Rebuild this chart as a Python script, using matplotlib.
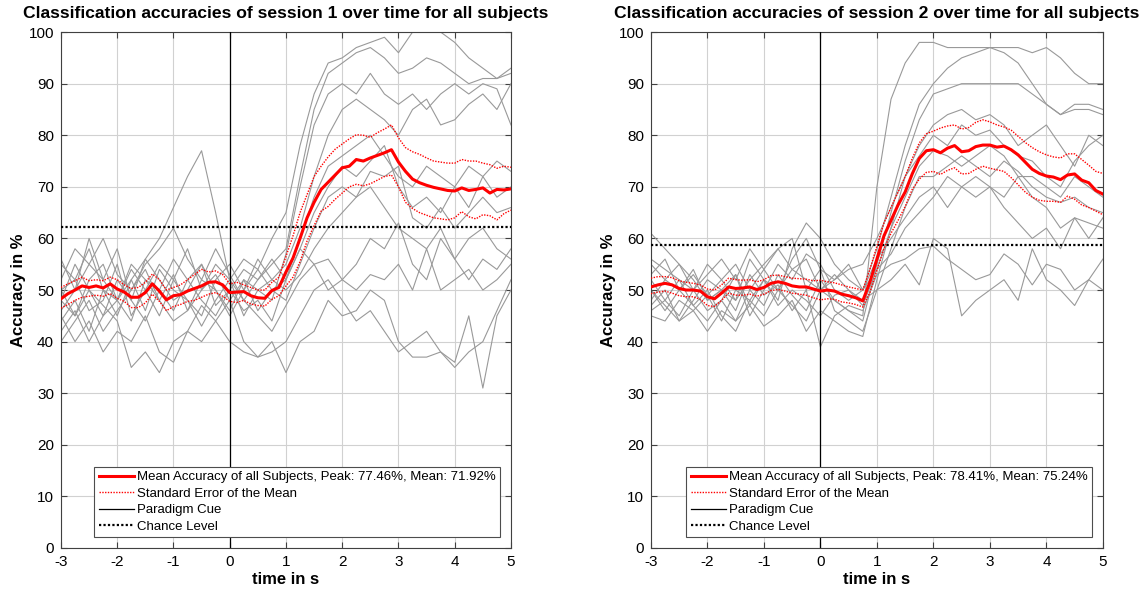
import numpy as np
import matplotlib

matplotlib.use("Agg")
import matplotlib.pyplot as plt
from matplotlib.lines import Line2D

plt.rcParams["font.family"] = ["Liberation Sans", "DejaVu Sans"]
plt.rcParams["axes.unicode_minus"] = False

# sampling grids (s)
t_subj = np.arange(-3.0, 5.001, 0.25)
t_mean = np.arange(-3.0, 5.001, 0.125)

# ---- session 1 -------------------------------------------------------------
s1_subjects = [
    [55, 52, 58, 50, 48, 54, 50, 55, 52, 58, 50, 55, 52, 56, 54, 60, 65, 78, 88, 94, 95, 97, 98, 99, 96, 100, 100, 100, 98, 95, 93, 91, 93],
    [48, 55, 50, 45, 52, 48, 56, 52, 48, 50, 55, 47, 50, 54, 52, 55, 58, 72, 85, 92, 94, 96, 97, 95, 92, 93, 95, 94, 92, 90, 91, 91, 92],
    [50, 45, 52, 55, 48, 44, 52, 48, 53, 46, 52, 50, 46, 52, 50, 48, 57, 70, 82, 88, 90, 88, 92, 88, 86, 88, 85, 88, 90, 88, 90, 89, 82],
    [44, 48, 42, 50, 45, 52, 46, 54, 50, 48, 45, 52, 55, 50, 56, 52, 55, 62, 72, 80, 85, 87, 85, 83, 80, 85, 87, 82, 83, 86, 88, 85, 90],
    [52, 58, 55, 60, 53, 50, 55, 58, 62, 56, 52, 58, 53, 48, 52, 56, 52, 60, 68, 74, 76, 78, 80, 76, 72, 70, 74, 72, 70, 74, 72, 75, 73],
    [46, 50, 55, 52, 58, 48, 44, 50, 46, 52, 48, 45, 50, 46, 48, 44, 52, 58, 65, 70, 74, 72, 75, 78, 70, 66, 68, 65, 70, 66, 72, 68, 70],
    [40, 44, 48, 42, 46, 50, 54, 48, 44, 46, 50, 53, 48, 52, 46, 50, 48, 55, 62, 68, 70, 68, 73, 72, 74, 64, 62, 66, 62, 65, 68, 65, 66],
    [50, 52, 46, 48, 55, 45, 50, 45, 52, 48, 43, 48, 52, 45, 50, 52, 50, 53, 58, 62, 65, 68, 70, 66, 62, 60, 58, 62, 56, 60, 62, 58, 56],
    [56, 50, 60, 52, 48, 55, 52, 50, 56, 52, 55, 50, 45, 50, 54, 50, 52, 58, 55, 50, 52, 50, 53, 52, 55, 50, 58, 50, 52, 54, 50, 52, 55],
    [42, 46, 40, 45, 48, 52, 56, 60, 66, 72, 77, 65, 52, 48, 45, 42, 47, 52, 55, 56, 52, 55, 60, 58, 63, 55, 52, 60, 56, 52, 56, 54, 58],
    [45, 40, 44, 38, 42, 40, 45, 38, 36, 42, 40, 44, 40, 38, 37, 40, 34, 40, 42, 48, 45, 46, 50, 48, 40, 37, 37, 38, 36, 45, 31, 45, 50],
    [48, 45, 50, 47, 44, 35, 38, 34, 40, 42, 47, 44, 48, 40, 37, 38, 40, 45, 50, 52, 48, 44, 46, 42, 38, 40, 42, 38, 35, 38, 40, 46, 52],
]
s1_mean = [
    48.3, 49.3, 50.0, 50.8, 50.5, 50.8, 50.4, 51.2, 50.2, 49.6, 48.6, 48.6, 49.5, 51.2, 49.8, 48.1,
    48.9, 49.1, 49.8, 50.3, 50.8, 51.5, 51.6, 51.0, 49.5, 49.6, 49.7, 48.9, 48.5, 48.4, 49.9, 50.5,
    53.5, 56.2, 60.0, 64.0, 67.0, 69.5, 70.9, 72.3, 73.7, 74.0, 75.3, 75.0, 75.6, 76.1, 76.6, 77.2,
    74.8, 73.0, 71.5, 70.8, 70.3, 69.9, 69.6, 69.3, 69.2, 69.8, 69.3, 69.5, 69.8, 68.8, 69.5, 69.4,
    69.6,
]
s1_upper = [
    50.5, 51.2, 51.8, 52.5, 51.8, 52.0, 51.8, 52.5, 52.0, 51.0, 50.3, 50.5, 51.5, 53.1, 52.0, 50.0,
    50.5, 51.0, 52.0, 53.0, 54.0, 53.5, 53.7, 53.0, 51.2, 51.5, 51.0, 50.5, 50.0, 50.0, 51.5, 52.5,
    56.5, 60.5, 65.0, 68.5, 72.0, 74.0, 75.8, 77.3, 78.3, 79.3, 80.1, 80.0, 79.6, 80.5, 81.2, 82.0,
    79.5, 77.6, 76.8, 76.3, 75.6, 75.0, 74.8, 74.6, 74.6, 75.3, 75.0, 75.0, 74.6, 74.3, 73.6, 74.0,
    73.8,
]
s1_lower = [
    46.5, 47.2, 48.0, 48.6, 48.8, 49.0, 48.8, 49.3, 48.4, 47.8, 46.6, 46.6, 47.5, 49.2, 47.8, 46.0,
    46.8, 47.2, 47.8, 48.0, 48.6, 49.2, 49.5, 48.8, 47.8, 47.6, 48.0, 47.3, 47.0, 46.9, 48.2, 48.9,
    50.8, 52.5, 55.5, 59.5, 62.5, 65.3, 66.2, 67.6, 68.8, 70.0, 70.5, 70.2, 70.6, 71.3, 72.0, 72.3,
    70.0, 67.0, 65.8, 65.0, 64.5, 64.0, 63.8, 63.6, 64.0, 65.2, 64.2, 63.8, 64.6, 64.4, 63.6, 64.8,
    65.5,
]
s1_chance = 62.3
s1_peak, s1_avg = 77.46, 71.92

# ---- session 2 -------------------------------------------------------------
s2_subjects = [
    [55, 52, 50, 54, 48, 50, 53, 47, 52, 50, 54, 52, 50, 48, 46, 45, 70, 87, 94, 98, 98, 97, 97, 97, 97, 97, 97, 96, 97, 95, 92, 90, 90],
    [48, 52, 55, 50, 53, 56, 52, 58, 54, 50, 56, 60, 54, 52, 55, 50, 58, 68, 78, 86, 90, 93, 95, 96, 97, 96, 94, 90, 86, 84, 85, 85, 84],
    [52, 48, 45, 50, 46, 48, 44, 50, 47, 53, 49, 46, 52, 48, 46, 44, 55, 65, 75, 83, 88, 89, 90, 90, 90, 90, 90, 88, 86, 84, 86, 86, 85],
    [45, 44, 48, 46, 42, 46, 44, 47, 43, 45, 48, 42, 46, 44, 42, 41, 52, 62, 72, 78, 82, 84, 85, 83, 84, 82, 78, 80, 82, 78, 74, 80, 78],
    [56, 54, 52, 50, 55, 52, 48, 52, 55, 58, 54, 56, 50, 52, 54, 55, 60, 66, 72, 76, 80, 78, 82, 80, 81, 78, 76, 75, 72, 70, 75, 78, 80],
    [50, 46, 50, 53, 49, 44, 50, 48, 52, 47, 50, 48, 45, 49, 50, 47, 54, 62, 68, 74, 77, 76, 74, 76, 78, 76, 72, 72, 70, 68, 72, 70, 68],
    [47, 50, 44, 48, 52, 50, 46, 53, 49, 51, 46, 50, 54, 46, 44, 42, 50, 58, 66, 72, 72, 74, 76, 74, 72, 75, 73, 70, 68, 67, 68, 66, 65],
    [53, 56, 50, 47, 44, 48, 53, 45, 50, 55, 52, 57, 55, 50, 48, 50, 56, 60, 64, 68, 70, 66, 70, 72, 70, 68, 72, 68, 66, 62, 64, 63, 62],
    [61, 58, 55, 52, 48, 50, 48, 56, 52, 48, 58, 63, 60, 55, 52, 50, 54, 57, 62, 65, 68, 72, 70, 68, 70, 66, 63, 60, 62, 58, 64, 60, 64],
    [46, 48, 52, 47, 50, 45, 42, 48, 45, 50, 47, 44, 50, 53, 50, 48, 50, 52, 55, 51, 60, 58, 45, 48, 50, 52, 48, 58, 52, 50, 47, 52, 50],
    [50, 47, 44, 46, 49, 52, 55, 50, 54, 58, 60, 50, 39, 45, 47, 46, 53, 55, 56, 58, 58.5, 56, 54, 52, 53, 57, 55, 51, 55, 54, 50, 52, 56],
]
s2_mean = [
    50.6, 51.0, 51.3, 51.0, 50.3, 50.0, 50.0, 49.8, 48.7, 48.3, 49.4, 50.6, 50.3, 50.4, 50.6, 50.1,
    50.5, 51.3, 51.6, 51.3, 50.8, 50.6, 50.6, 50.2, 49.8, 50.0, 49.8, 49.2, 48.9, 48.5, 47.9, 51.5,
    56.0, 60.5, 63.5, 66.5, 69.0, 72.5, 75.5, 77.0, 77.2, 76.6, 77.5, 78.0, 76.8, 77.0, 77.8, 78.1,
    78.1, 77.7, 77.9, 77.2, 76.2, 74.8, 73.4, 72.6, 72.1, 71.9, 71.4, 72.3, 72.5, 71.3, 70.8, 69.3,
    68.6,
]
s2_upper = [
    52.3, 52.6, 52.6, 52.4, 51.8, 51.5, 51.3, 51.0, 50.2, 50.0, 51.0, 52.3, 52.0, 51.9, 52.0, 51.6,
    52.0, 52.8, 52.9, 52.6, 52.3, 52.2, 52.1, 51.8, 51.9, 51.6, 51.4, 51.0, 50.6, 50.3, 50.0, 54.0,
    58.5, 63.0, 66.0, 69.0, 72.0, 75.5, 78.5, 80.3, 80.8, 81.4, 81.8, 82.0, 81.2, 81.5, 82.5, 83.0,
    82.6, 82.0, 81.6, 81.0, 79.8, 78.6, 77.6, 76.8, 76.2, 75.8, 75.6, 76.4, 76.4, 75.3, 74.2, 73.0,
    72.6,
]
s2_lower = [
    49.3, 49.6, 49.8, 49.4, 48.9, 48.7, 48.7, 48.2, 47.0, 46.8, 48.0, 49.4, 49.0, 49.0, 49.2, 48.8,
    49.2, 49.9, 50.1, 49.8, 49.4, 49.2, 49.0, 48.5, 48.1, 48.3, 48.2, 47.7, 47.5, 47.2, 46.7, 49.5,
    53.8, 58.0, 61.0, 63.5, 66.2, 69.5, 71.5, 72.8, 73.0, 72.4, 73.2, 73.7, 72.5, 72.6, 73.4, 74.0,
    73.6, 73.3, 73.0, 71.8, 70.4, 69.0, 68.0, 67.4, 67.2, 67.2, 67.0, 68.2, 67.6, 66.5, 66.0, 65.3,
    64.6,
]
s2_chance = 58.8
s2_peak, s2_avg = 78.41, 75.24

sessions = [
    (1, s1_subjects, s1_mean, s1_upper, s1_lower, s1_chance, s1_peak, s1_avg),
    (2, s2_subjects, s2_mean, s2_upper, s2_lower, s2_chance, s2_peak, s2_avg),
]

fig = plt.figure(figsize=(11.48, 5.93), dpi=100)
positions = [[0.0531, 0.0759, 0.392, 0.870], [0.567, 0.0759, 0.3937, 0.870]]

for pos, (num, subjects, mean, upper, lower, chance, peak, avg) in zip(positions, sessions):
    ax = fig.add_axes(pos)
    for acc in subjects:
        ax.plot(t_subj, acc, color="0.6", linewidth=0.8, zorder=2)
    ax.plot([0, 0], [0, 100], color="black", linewidth=0.9, zorder=3)
    ax.axhline(chance, color="black", linestyle=(0, (1, 1)), linewidth=1.6, zorder=3)
    ax.plot(t_mean, upper, color="red", linestyle=(0, (1, 1)), linewidth=1.0, zorder=4)
    ax.plot(t_mean, lower, color="red", linestyle=(0, (1, 1)), linewidth=1.0, zorder=4)
    ax.plot(t_mean, mean, color="red", linewidth=2.2, zorder=5)

    ax.set_xlim(-3, 5)
    ax.set_ylim(0, 100)
    ax.set_xticks(range(-3, 6))
    ax.set_yticks(range(0, 101, 10))
    ax.grid(True, color="0.82", linewidth=0.8)
    ax.set_axisbelow(True)
    ax.tick_params(direction="in", top=True, right=True, labelsize=11,
                   color="0.25", length=4, pad=5)
    for sp in ax.spines.values():
        sp.set_color("0.25")
        sp.set_linewidth(0.8)

    ax.set_title(f"Classification accuracies of session {num} over time for all subjects",
                 fontsize=12.6, fontweight="bold", pad=10)
    ax.set_xlabel("time in s", fontsize=12, fontweight="bold", labelpad=2)
    ax.set_ylabel("Accuracy in %", fontsize=12, fontweight="bold", labelpad=2)

    handles = [
        Line2D([], [], color="red", linewidth=2.2),
        Line2D([], [], color="red", linestyle=(0, (1, 1)), linewidth=1.0),
        Line2D([], [], color="black", linewidth=0.9),
        Line2D([], [], color="black", linestyle=(0, (1, 1)), linewidth=1.6),
    ]
    labels = [
        f"Mean Accuracy of all Subjects, Peak: {peak:.2f}%, Mean: {avg:.2f}%",
        "Standard Error of the Mean",
        "Paradigm Cue",
        "Chance Level",
    ]
    leg = ax.legend(handles, labels, loc="lower right", fontsize=9.5,
                    handlelength=2.7, handletextpad=0.2, labelspacing=0.32,
                    borderpad=0.35, borderaxespad=0.8, fancybox=False,
                    framealpha=1, edgecolor="0.3")
    leg.get_frame().set_linewidth(0.8)
    leg.set_zorder(10)

fig.savefig("out.png", dpi=100)
